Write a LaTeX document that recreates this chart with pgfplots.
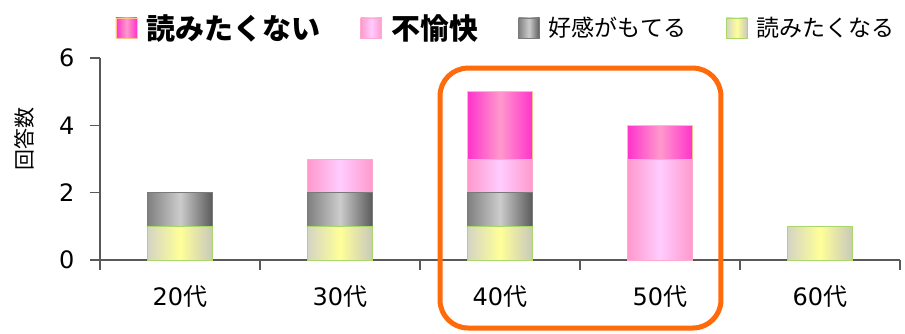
\documentclass[border=0pt]{standalone}
\usepackage{pgfplots}
\pgfplotsset{compat=1.18}
\usepackage{fontspec}
\setmainfont{DejaVu Sans}
\newfontfamily\jp{Noto Sans CJK JP}

\definecolor{axgray}{HTML}{595959}
\definecolor{orng}{HTML}{FF6A0A}
\definecolor{naiA}{HTML}{FF33CC}
\definecolor{naiB}{HTML}{FF99CC}
\definecolor{naiD}{HTML}{FFC090}
\definecolor{fuA}{HTML}{FF99CC}
\definecolor{fuB}{HTML}{FFCCFF}
\definecolor{fuD}{HTML}{FFA8D0}
\definecolor{koA}{HTML}{808080}
\definecolor{koB}{HTML}{CCCCCC}
\definecolor{koC}{HTML}{5A5A5A}
\definecolor{koD}{HTML}{7A7A7A}
\definecolor{naA}{HTML}{D4D4C4}
\definecolor{naB}{HTML}{FFFF99}
\definecolor{naC}{HTML}{C8C8BC}
\definecolor{naD}{HTML}{A8D868}

\pgfplotsset{
  sNai/.style={left color=naiA, right color=naiA, middle color=naiB, draw=naiD, line width=0.8pt},
  sFu/.style={left color=fuA, right color=fuA, middle color=fuB, draw=fuD, line width=0.8pt},
  sKo/.style={left color=koA, right color=koC, middle color=koB, draw=koD, line width=0.8pt},
  sNa/.style={left color=naA, right color=naC, middle color=naB, draw=naD, line width=0.8pt},
  boxlegend/.style={legend image code/.code={\draw[##1] (0pt,-10pt) rectangle (21pt,10pt);}},
  base/.style={scale only axis, width=800pt, height=202pt,
    xmin=-0.5, xmax=4.5, ymin=0, ymax=6,
    ybar stacked, bar width=65pt, clip=false},
  hidden/.style={base, hide axis},
}

\begin{document}
\begin{tikzpicture}
\useasboundingbox (-100pt,-74pt) rectangle (805pt,260pt);
% axis with frame, ticks, legend, and the 20s bar
\begin{axis}[
  base,
  axis x line*=bottom, axis y line*=left,
  axis line style={axgray, line width=1.3pt},
  every tick/.style={axgray, line width=1.3pt},
  tick align=outside, major tick length=10pt,
  xtick={-0.5,0.5,...,4.5}, xticklabels={},
  extra x ticks={0,1,2,3,4},
  extra x tick labels={20{\jp 代},30{\jp 代},40{\jp 代},50{\jp 代},60{\jp 代}},
  extra x tick style={major tick length=0pt},
  xticklabel style={font=\fontsize{24}{28}\selectfont, yshift=-22pt},
  ytick={0,2,4,6},
  yticklabel style={font=\fontsize{24}{28}\selectfont, xshift=-12pt},
  /pgf/number format/assume math mode=true,
  ylabel={\jp 回答数},
  ylabel style={at={(axis description cs:-0.094,0.6)}, anchor=center, font=\fontsize{21}{24}\selectfont},
  legend columns=4,
  legend style={draw=none, fill=none, at={(axis description cs:0.509,1.149)}, anchor=center,
    /tikz/every odd column/.append style={column sep=5pt},
    /tikz/every even column/.append style={column sep=36pt},
    nodes={inner sep=4pt}},
]
% 20代 (stacked bottom to top)
\addplot[sNa, forget plot] coordinates {(0,1)};
\addplot[sKo, forget plot] coordinates {(0,1)};

\addlegendimage{sNai, boxlegend}
\addlegendentry{\fontsize{29}{32}\selectfont\jp\bfseries 読みたくない}
\addlegendimage{sFu, boxlegend}
\addlegendentry{\fontsize{29}{32}\selectfont\jp\bfseries 不愉快}
\addlegendimage{sKo, boxlegend}
\addlegendentry{\fontsize{23}{26}\selectfont\jp 好感がもてる}
\addlegendimage{sNa, boxlegend}
\addlegendentry{\fontsize{23}{26}\selectfont\jp 読みたくなる}
\end{axis}

% 30代
\begin{axis}[hidden]
\addplot[sNa] coordinates {(1,1)};
\addplot[sKo] coordinates {(1,1)};
\addplot[sFu] coordinates {(1,1)};
\end{axis}

% 40代
\begin{axis}[hidden]
\addplot[sNa] coordinates {(2,1)};
\addplot[sKo] coordinates {(2,1)};
\addplot[sFu] coordinates {(2,1)};
\addplot[sNai] coordinates {(2,2)};
\end{axis}

% 50代
\begin{axis}[hidden]
\addplot[sFu] coordinates {(3,3)};
\addplot[sNai] coordinates {(3,1)};
\end{axis}

% 60代
\begin{axis}[hidden]
\addplot[sNa] coordinates {(4,1)};
\draw[orng, line width=5pt, rounded corners=28pt] (axis cs:1.625,5.70) rectangle (axis cs:3.381,-2.02);
\end{axis}
\end{tikzpicture}
\end{document}
